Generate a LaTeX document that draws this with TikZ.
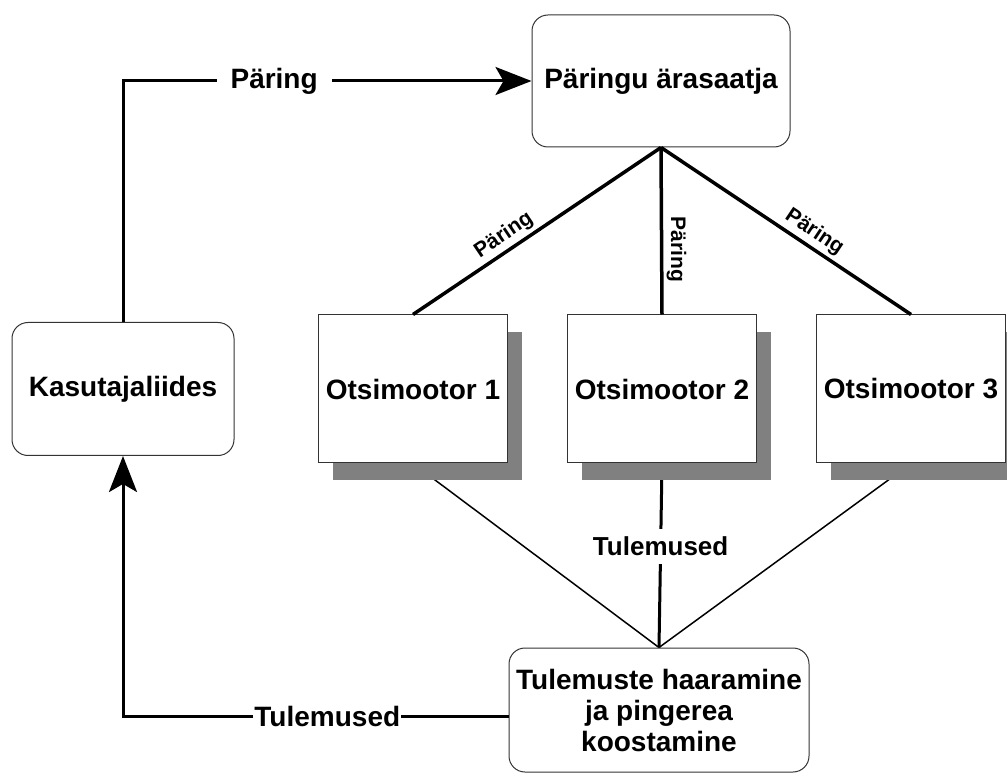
\documentclass[tikz,border=0pt]{standalone}
\usepackage{fontspec}
\setmainfont{Liberation Sans}
\usetikzlibrary{arrows.meta,shadows,backgrounds,positioning}

\begin{document}
\begin{tikzpicture}
    [x=1pt, y=-1pt,
    font=\fontsize{28}{31}\selectfont\bfseries,
    roundbox/.style={draw=black!80, line width=1pt, rounded corners=16pt,
        fill=white, align=center, inner sep=0pt},
    enginebox/.style={draw=black!80, line width=1pt, fill=white,
        minimum width=189pt, minimum height=148pt, inner sep=0pt,
        drop shadow={shadow xshift=14pt, shadow yshift=-17pt,
            opacity=1, fill=black!50}},
    query/.style={line width=3.5pt},
    result/.style={line width=1.5pt},
    flow/.style={line width=3pt},
    bigtip/.style={-{Stealth[length=36pt, width=28pt, inset=8pt]}},
    small/.style={font=\fontsize{21}{24}\selectfont\bfseries}]
    \useasboundingbox (0,0) rectangle (1007,775);
    \node[roundbox, minimum width=258pt, minimum height=132pt] (sender) at (661,81) {Päringu ärasaatja};
    \node[roundbox, minimum width=222pt, minimum height=133pt] (ui) at (123,389) {Kasutajaliides};
    \node[enginebox] (eng1) at (413,389) {Otsimootor 1};
    \node[enginebox, right=59pt of eng1] (eng2) {Otsimootor 2};
    \node[enginebox, right=59pt of eng2] (eng3) {Otsimootor 3};
    \node[roundbox, minimum width=300pt, minimum height=124pt] (merge) at (659,710)
        {Tulemuste haaramine\\ja pingerea\\koostamine};
    % query goes out
    \draw[flow, bigtip] (ui.north) |- node[pos=0.685, fill=white, inner xsep=14pt] {Päring} (sender.west);
    \draw[query] (eng1.north) -- node[small, sloped, above, pos=0.4] {Päring} (sender.south);
    \draw[query] (sender.south) -- node[small, pos=0.61, rotate=-90, anchor=south] {Päring} (eng2.north);
    \draw[query] (sender.south) -- node[small, sloped, above, pos=0.58] {Päring} (eng3.north);
    % results come back
    \begin{scope}[on background layer]
        \draw[result] (eng1.south) -- (merge.north);
        \draw[flow] (eng2.south) -- node[pos=0.45, fill=white, inner ysep=8pt,
            font=\fontsize{26}{28}\selectfont\bfseries] {Tulemused} (merge.north);
        \draw[result] (eng3.south) -- (merge.north);
    \end{scope}
    \draw[flow, bigtip] ([yshift=-6pt]merge.west) -| node[pos=0.235, fill=white, inner sep=1pt] {Tulemused} (ui.south);
\end{tikzpicture}
\end{document}
